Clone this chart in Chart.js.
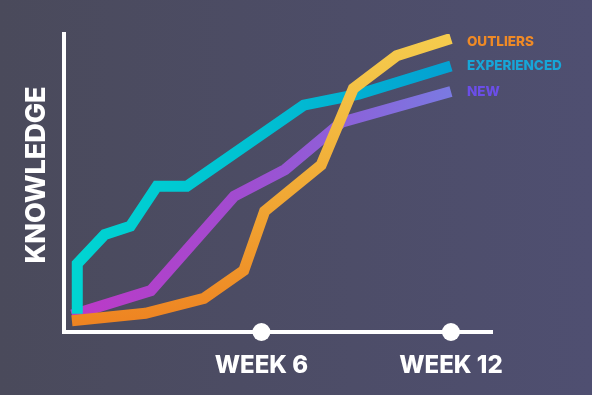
<!DOCTYPE html>
<html>
<head>
<meta charset="utf-8">
<script src="https://cdn.jsdelivr.net/npm/chart.js@4.4.1/dist/chart.umd.min.js"></script>
<style>
  html, body { margin: 0; padding: 0; }
  body { width: 592px; height: 395px; overflow: hidden;
         background: linear-gradient(to right, #4a4a5b, #4f4f71); }
  canvas { display: block; }
</style>
</head>
<body>
<canvas id="chart" width="592" height="395"></canvas>
<script>
// Series data (x in weeks, y in knowledge units 0-100)
const seriesNames = ['OUTLIERS', 'EXPERIENCED', 'NEW'];
const outliersWeeks = [0, 2.33, 4.18, 5.44, 6.1, 7.89, 8.91, 10.28, 12];
const outliersKnowledge = [3.8, 6.3, 11.3, 20.6, 40.5, 56.0, 81.7, 92.7, 98.5];
const experiencedWeeks = [0.17, 0.17, 1.04, 1.85, 2.69, 3.64, 7.34, 9.08, 12];
const experiencedKnowledge = [6.1, 22.9, 32.7, 35.5, 48.9, 48.9, 76.1, 79.8, 89.3];
const newWeeks = [0, 2.5, 5.14, 6.75, 8.54, 12];
const newKnowledge = [5.7, 13.9, 45.6, 54.5, 70.4, 80.7];
const weekTicks = [6, 12];
const yTitle = 'KNOWLEDGE';

const labelColors = ['#ef8a26', '#17a6d8', '#6b4ee8'];
const FONT = 'Inter, "Open Sans", sans-serif';

const toPoints = (xs, ys) => xs.map((x, i) => ({ x: x, y: ys[i] }));

// Gradient helpers
const hGradient = (stops) => ctx => {
    const { chart } = ctx;
    const area = chart.chartArea;
    if (!area) return stops[0][1];
    const g = chart.ctx.createLinearGradient(area.left, 0, area.right - 40, 0);
    stops.forEach(([p, c]) => g.addColorStop(p, c));
    return g;
};
const vGradient = (stops) => ctx => {
    const { chart } = ctx;
    const area = chart.chartArea;
    if (!area) return stops[0][1];
    const g = chart.ctx.createLinearGradient(0, area.bottom, 0, area.top);
    stops.forEach(([p, c]) => g.addColorStop(p, c));
    return g;
};

// Axis title, tick dots and end-of-line labels
const decorPlugin = {
    id: 'decor',
    afterDraw(chart) {
        const { ctx, chartArea, scales } = chart;
        ctx.save();

        // tick dots on the x axis
        ctx.fillStyle = '#ffffff';
        weekTicks.forEach(w => {
            ctx.beginPath();
            ctx.arc(scales.x.getPixelForValue(w), chartArea.bottom, 9, 0, Math.PI * 2);
            ctx.fill();
        });

        // y axis title
        ctx.save();
        ctx.translate(37, chartArea.top + (chartArea.bottom - chartArea.top) / 2 - 8);
        ctx.rotate(-Math.PI / 2);
        ctx.font = '800 27px ' + FONT;
        ctx.textAlign = 'center';
        ctx.textBaseline = 'middle';
        ctx.fillText(yTitle, 0, 0);
        ctx.restore();

        // series labels next to line ends
        ctx.font = '800 13.5px ' + FONT;
        ctx.textBaseline = 'middle';
        ctx.textAlign = 'left';
        chart.data.datasets.forEach((ds, i) => {
            const meta = chart.getDatasetMeta(i);
            const last = meta.data[meta.data.length - 1];
            ctx.fillStyle = labelColors[i];
            ctx.fillText(ds.label, last.x + 16, Math.max(last.y + 0.5, chartArea.top + 8));
        });
        ctx.restore();
    }
};

new Chart(document.getElementById('chart'), {
    type: 'line',
    data: {
        datasets: [
            {
                label: seriesNames[0],
                data: toPoints(outliersWeeks, outliersKnowledge),
                borderColor: vGradient([[0, '#ee8120'], [0.35, '#f0a030'], [0.75, '#f3bd42'], [1, '#f5cc4e']])
            },
            {
                label: seriesNames[1],
                data: toPoints(experiencedWeeks, experiencedKnowledge),
                borderColor: hGradient([[0, '#00d6d2'], [0.5, '#00c0d2'], [1, '#04a0d2']])
            },
            {
                label: seriesNames[2],
                data: toPoints(newWeeks, newKnowledge),
                borderColor: hGradient([[0, '#be38c6'], [0.45, '#a14cd0'], [0.75, '#8a64da'], [1, '#7a7ae2']])
            }
        ]
    },
    options: {
        responsive: false,
        animation: false,
        layout: { padding: { top: 34, right: 100, left: 0, bottom: 0 } },
        elements: {
            line: { borderWidth: 11, tension: 0, borderCapStyle: 'butt', borderJoinStyle: 'miter', fill: false },
            point: { radius: 0, hoverRadius: 0 }
        },
        plugins: { legend: { display: false }, tooltip: { enabled: false } },
        scales: {
            x: {
                type: 'linear',
                min: -0.25,
                max: 13.3,
                afterFit: s => { s.height = 63; },
                afterBuildTicks: s => { s.ticks = weekTicks.map(v => ({ value: v })); },
                grid: { display: false, drawTicks: false },
                border: { display: true, color: '#ffffff', width: 4 },
                ticks: {
                    autoSkip: false,
                    maxRotation: 0,
                    padding: 19,
                    color: '#ffffff',
                    font: { family: FONT, size: 24, weight: '800' },
                    callback: v => 'WEEK ' + v
                }
            },
            y: {
                min: 0,
                max: 100,
                afterFit: s => { s.width = 64; },
                grid: { display: false, drawTicks: false },
                border: { display: true, color: '#ffffff', width: 4 },
                ticks: { display: false },
                title: { display: false }
            }
        }
    },
    plugins: [decorPlugin]
});
</script>
</body>
</html>
